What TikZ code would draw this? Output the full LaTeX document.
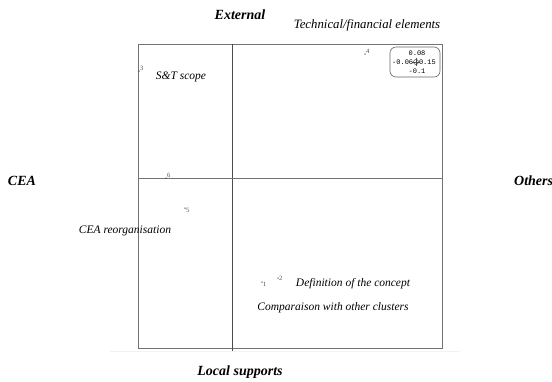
\documentclass[tikz,border=0pt]{standalone}
\usepackage{fontspec}
\setmainfont{Liberation Serif}
\setmonofont{Liberation Mono}
\usetikzlibrary{positioning, calc}

\tikzset{
  axislabel/.style={font=\fontsize{14}{14}\selectfont\bfseries\itshape, inner sep=0pt},
  itemlabel/.style={font=\fontsize{11.5}{11.5}\selectfont\itshape, inner sep=0pt},
  pt/.style={circle, fill=black!70, inner sep=0pt, minimum size=1.5pt},
  ptnum/.style={font=\fontsize{6.5}{6.5}\selectfont, text=black!70, inner sep=0pt},
  legtext/.style={font=\fontsize{7}{7}\selectfont\ttfamily, inner sep=0pt}
}

\begin{document}
\begin{tikzpicture}[x=1pt, y=-1pt]
  \useasboundingbox (0,0) rectangle (552,381);

  % Frame and axes
  \draw[black!55, line width=0.8pt] (138,44) rectangle (442,348);
  \draw[black!70, line width=0.6pt] (232,44) -- (232,351);
  \draw[black!55, line width=0.8pt] (138,178) -- (442,178);
  \draw[black!5, line width=0.6pt] (110,351) -- (460,351);

  % Axis labels
  \node[axislabel] (ext) at (240,15) {External};
  \node[axislabel] (loc) at (240,372) {Local supports};
  \node[axislabel] (cea) at (22,181) {CEA};
  \node[axislabel, anchor=west] (oth) at (514,181) {Others};

  % Points
  \node[pt] (p3) at (139,71) {};
  \node[ptnum, anchor=south west] at (p3.east) {3};
  \node[pt] (p4) at (365,54) {};
  \node[ptnum, anchor=south west] at (p4.east) {4};
  \node[pt] (p6) at (166,178) {};
  \node[ptnum, anchor=south west] at (p6.east) {6};
  \node[pt] (p5) at (185,208) {};
  \node[ptnum, anchor=north west] at (p5.east) {5};
  \node[pt] (p1) at (262,282) {};
  \node[ptnum, anchor=north west] at (p1.east) {1};
  \node[pt] (p2) at (278,278) {};
  \node[ptnum, anchor=south west] at ($(p2.east)+(0,3)$) {2};

  % Item labels
  \node[itemlabel, font=\fontsize{12.8}{12.8}\selectfont\itshape] (tech) at (367,25) {Technical/financial elements};
  \node[itemlabel] (st) at (181,77) {S\&T scope};
  \node[itemlabel] (reorg) at (125,231) {CEA reorganisation};
  \node[itemlabel] (defn) at (353,284) {Definition of the concept};
  \node[itemlabel] (comp) at (333,308) {Comparaison with other clusters};

  % Scale legend
  \draw[black!60, rounded corners=6pt, line width=0.6pt] (390,47) rectangle (440,77);
  \node[legtext] (ltop) at (417,53) {0.08};
  \node[legtext] (lmid) at (414,62) {-0.06\,\,\,\,\,0.15};
  \node[legtext] (lbot) at (417,71) {-0.1};
  \draw[black!70, line width=0.5pt] (416,58) -- (416,66) (412,62) -- (420,62);
  \draw[black!70, line width=0.5pt] (416,62) circle (2.5pt);
\end{tikzpicture}
\end{document}
